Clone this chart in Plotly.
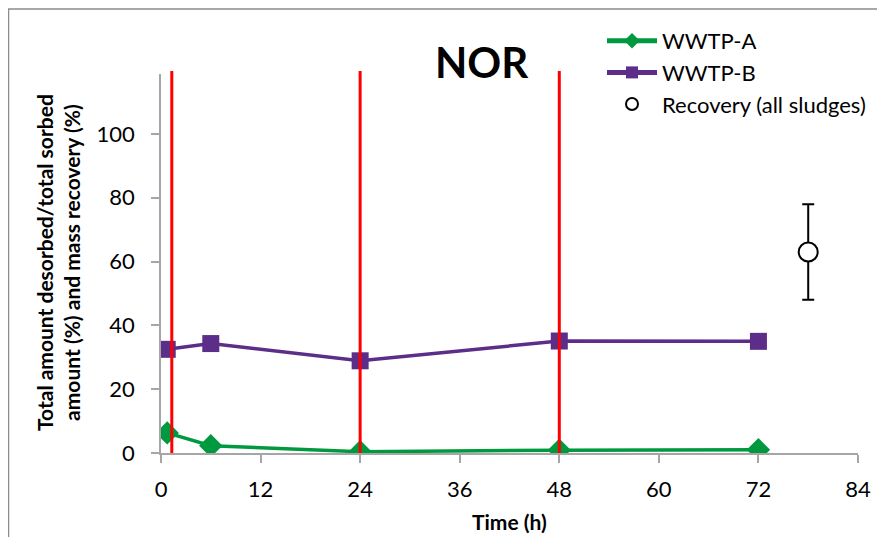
import plotly.graph_objects as go

# ---- data ----
time_h = [0.75, 6, 24, 48, 72]
wwtp_a = [6.3, 2.3, 0.4, 0.9, 1.0]
wwtp_b = [32.5, 34.3, 28.9, 35.1, 35.0]
recovery_time = [78]
recovery_mean = [63]
recovery_err = [15]
red_line_times = [1.3, 24, 48]
x_ticks = [0, 12, 24, 36, 48, 60, 72, 84]
y_ticks = [0, 20, 40, 60, 80, 100]

FONT = "Lato"
GREEN = "#00993f"
PURPLE = "#5c2d89"
AXIS = "#a6a6a6"

# page body has an 8px margin: figure is 877x529, placed at (8,8)
OFF = 8
PL, PT, PW, PH = 161, 74, 697, 379  # plot area in page pixels


def px(xp):
    return (xp - PL) / PW


def py(yp):
    return (PT + PH - yp) / PH


fig = go.Figure()

fig.add_trace(go.Scatter(
    x=time_h, y=wwtp_a, mode="lines+markers", name="WWTP-A",
    line=dict(color=GREEN, width=3.5),
    marker=dict(symbol="diamond", size=18, color=GREEN),
))
fig.add_trace(go.Scatter(
    x=time_h, y=wwtp_b, mode="lines+markers", name="WWTP-B",
    line=dict(color=PURPLE, width=3.5),
    marker=dict(symbol="square", size=17, color=PURPLE),
))
fig.add_trace(go.Scatter(
    x=recovery_time, y=recovery_mean, mode="markers", name="Recovery (all sludges)",
    marker=dict(symbol="circle", size=19, color="white", line=dict(color="black", width=2)),
    error_y=dict(type="data", array=recovery_err, color="black", thickness=2, width=6),
))

shapes = []
for t in red_line_times:
    shapes.append(dict(type="line", xref="x", yref="paper", x0=t, x1=t, y0=0, y1=py(71),
                       line=dict(color="#ff0000", width=3), layer="above"))
# outer frame
shapes.append(dict(type="rect", xref="paper", yref="paper",
                   x0=px(8.5), x1=px(900), y0=py(560), y1=py(9),
                   line=dict(color="#8c8c8c", width=1.5), layer="below"))

annotations = [
    dict(text="<b>NOR</b>", xref="paper", yref="paper", x=px(482), y=py(62),
         xanchor="center", yanchor="middle", showarrow=False,
         font=dict(family=FONT, size=42, color="black")),
    dict(text="<b>Time (h)</b>", xref="paper", yref="paper", x=px(509), y=py(521),
         xanchor="center", yanchor="middle", showarrow=False,
         font=dict(family=FONT, size=21, color="black")),
    dict(text="<b>Total amount desorbed/total sorbed<br>amount (%) and mass recovery (%)</b>",
         xref="paper", yref="paper", x=px(58), y=py(263),
         xanchor="center", yanchor="middle", showarrow=False, textangle=-90,
         font=dict(family=FONT, size=21, color="black")),
]

fig.update_layout(
    width=885 - OFF, height=537 - OFF,
    margin=dict(l=PL - OFF, r=885 - PL - PW, t=PT - OFF, b=537 - PT - PH),
    paper_bgcolor="white", plot_bgcolor="white",
    font=dict(family=FONT, size=22, color="black"),
    showlegend=True,
    legend=dict(x=px(602), y=py(20), xanchor="left", yanchor="top",
                font=dict(family=FONT, size=22, color="black"), bgcolor="rgba(0,0,0,0)",
                itemwidth=50, itemsizing="constant", tracegroupgap=0),
    shapes=shapes,
    annotations=annotations,
    xaxis=dict(range=[0, 84], tickvals=x_ticks, ticktext=[str(v) for v in x_ticks],
               showgrid=False, zeroline=False, showline=True, linecolor=AXIS, linewidth=1.5,
               ticks="outside", ticklen=8, tickcolor=AXIS, tickwidth=1.5,
               ticklabelstandoff=8,
               tickfont=dict(family=FONT, size=22)),
    yaxis=dict(range=[0, 118.8], tickvals=y_ticks, ticktext=[str(v) for v in y_ticks],
               showgrid=False, zeroline=False, showline=True, linecolor=AXIS, linewidth=1.5,
               ticks="outside", ticklen=8, tickcolor=AXIS, tickwidth=1.5,
               ticklabelstandoff=12,
               tickfont=dict(family=FONT, size=22)),
)

fig.write_html("out.html")
